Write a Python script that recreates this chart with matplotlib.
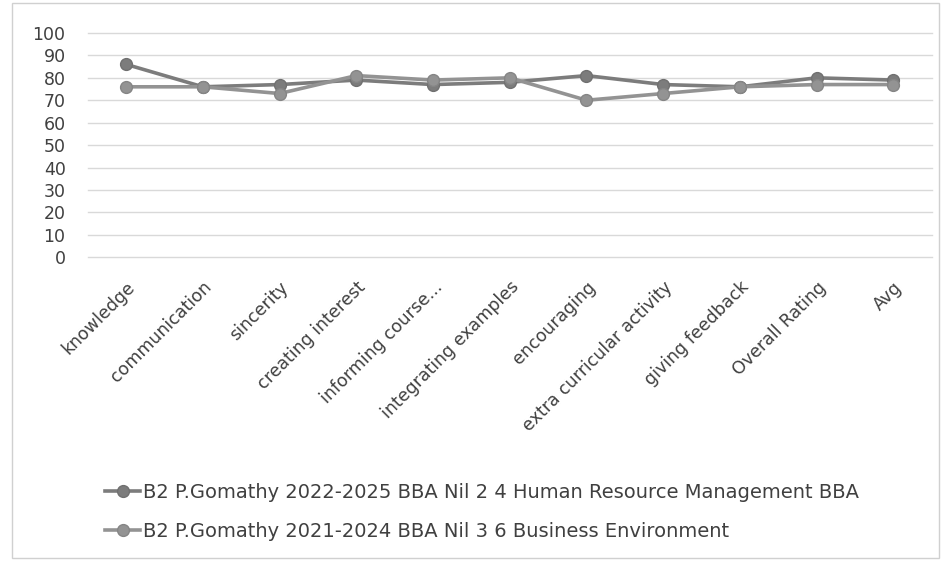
import matplotlib
matplotlib.use("Agg")
import matplotlib.pyplot as plt
from matplotlib.patches import Rectangle

categories = ["knowledge", "communication", "sincerity", "creating interest",
              "informing course...", "integrating examples", "encouraging",
              "extra curricular activity", "giving feedback", "Overall Rating", "Avg"]
hrm_2022 = [86, 76, 77, 79, 77, 78, 81, 77, 76, 80, 79]
be_2021 = [76, 76, 73, 81, 79, 80, 70, 73, 76, 77, 77]
series_names = ["B2 P.Gomathy 2022-2025 BBA Nil 2 4 Human Resource Management BBA",
                "B2 P.Gomathy 2021-2024 BBA Nil 3 6 Business Environment"]
yticks = list(range(0, 101, 10))

plt.rcParams["font.family"] = ["DejaVu Sans"]

fig = plt.figure(figsize=(9.44, 5.64), dpi=100)
ax = fig.add_axes([0.093, 0.544, 0.894, 0.3975])

x = range(len(categories))
ax.plot(x, hrm_2022, color="#7c7c7c", lw=2.6, marker="o", ms=8.5,
        mec="#707070", label=series_names[0], zorder=3)
ax.plot(x, be_2021, color="#939393", lw=2.6, marker="o", ms=8.5,
        mec="#858585", label=series_names[1], zorder=3)

ax.set_xlim(-0.5, len(categories) - 0.5)
ax.set_ylim(0, 100)
ax.set_yticks(yticks)
ax.set_yticklabels([str(v) for v in yticks], fontsize=12.5, color="#404040")
ax.set_xticks(list(x))
ax.set_xticklabels(categories, rotation=45, ha="right", rotation_mode="anchor",
                   fontsize=12.5, color="#404040")
ax.tick_params(axis="y", length=0, pad=16)
ax.tick_params(axis="x", length=0, pad=15)
ax.grid(axis="y", color="#d9d9d9", lw=1)
for gl in ax.get_ygridlines():
    gl.set_clip_on(False)
ax.set_axisbelow(True)
for s in ax.spines.values():
    s.set_visible(False)

fig.legend(loc="upper left", bbox_to_anchor=(0.103, 0.157), frameon=False,
           fontsize=14, handlelength=1.8, handletextpad=0.15, labelspacing=1.0,
           labelcolor="#404040", borderaxespad=0)

fig.patches.append(Rectangle((0.013, 0.01), 0.982, 0.985, transform=fig.transFigure,
                             fill=False, edgecolor="#d0d0d0", lw=1))

fig.savefig("out.png", dpi=100)
